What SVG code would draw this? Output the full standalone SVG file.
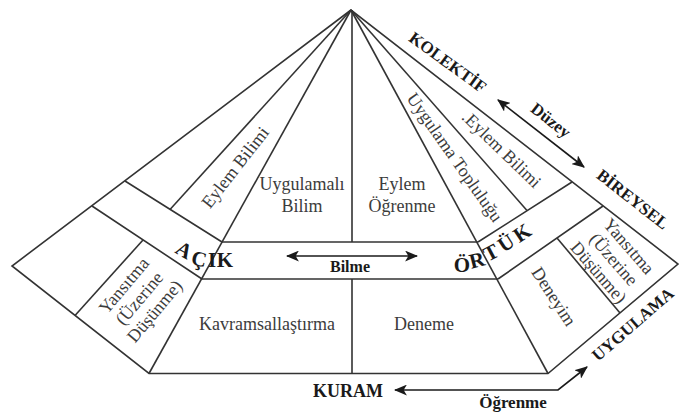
<svg xmlns="http://www.w3.org/2000/svg" width="680" height="412" viewBox="0 0 680 412">
<defs>
<marker id="ah" viewBox="0 0 12 10" refX="11" refY="5" markerWidth="13" markerHeight="11" markerUnits="userSpaceOnUse" orient="auto-start-reverse">
<path d="M0,0 L12,5 L0,10 L3,5 Z" fill="#1a1a1a"/>
</marker>
<style>
.ln{fill:none;stroke:#333;stroke-width:1.6;stroke-linejoin:miter}
.t{font-family:"Liberation Serif","Times New Roman",serif;font-size:18px;fill:#3c3c3c;text-anchor:middle}
.b{font-family:"Liberation Serif","Times New Roman",serif;font-weight:bold;fill:#1a1a1a;text-anchor:middle}
.ar{fill:none;stroke:#1a1a1a;stroke-width:1.6;marker-start:url(#ah);marker-end:url(#ah)}
</style>
</defs>
<rect width="680" height="412" fill="#fff"/>
<g id="frame" class="ln">
<path d="M351,10 L12,266 L149,373.5 L548,373.5 L678,264 Z"/>
<path d="M351,10 L149,373.5"/>
<path d="M351,10 L548,373.5"/>
<path d="M352,10 V242 M352,279 V373.5"/>
<path d="M222,242 H478 M202,279 H498"/>
<path d="M125,181 L222,242 M92,206 L202,279"/>
<path d="M351,10 L170,209.5"/>
<path d="M143,240 L75,315.5"/>
<path d="M478,242 L572,182 M498,279 L603,206"/>
<path d="M351,10 L527,210.5"/>
<path d="M557,238 L620,313"/>
</g>
<g id="n-eylem-bilimi-left"><text class="t" transform="translate(236,168) rotate(-52)" y="5">Eylem Bilimi</text></g>
<g id="n-uygulamali-bilim"><text class="t" x="302" y="190">Uygulamalı</text><text class="t" x="302" y="212">Bilim</text></g>
<g id="n-eylem-ogrenme"><text class="t" x="402" y="190">Eylem</text><text class="t" x="402" y="212">Öğrenme</text></g>
<g id="n-uygulama-toplulugu"><text class="t" transform="translate(454,158) rotate(55)" y="5">Uygulama Topluluğu</text></g>
<g id="n-eylem-bilimi-right"><text class="t" transform="translate(501,150) rotate(44)" y="5">.Eylem Bilimi</text></g>
<g id="n-yansitma-right"><text class="t" transform="translate(613,260) rotate(49)"><tspan x="0" y="-15">Yansıtma</tspan><tspan x="0" y="5">(Üzerine</tspan><tspan x="0" y="25">Düşünme)</tspan></text></g>
<g id="n-deneyim"><text class="t" transform="translate(553,297) rotate(57)" y="5">Deneyim</text></g>
<g id="n-yansitma-left"><text class="t" transform="translate(140,299) rotate(-50)"><tspan x="0" y="-15">Yansıtma</tspan><tspan x="0" y="5">(Üzerine</tspan><tspan x="0" y="25">Düşünme)</tspan></text></g>
<g id="n-kavramsallastirma"><text class="t" x="267" y="330">Kavramsallaştırma</text></g>
<g id="n-deneme"><text class="t" x="424" y="330">Deneme</text></g>
<g id="n-acik" class="b" font-size="21">
<text transform="translate(184,250) rotate(30)" y="7">A</text>
<text transform="translate(199,259) rotate(12)" y="7">Ç</text>
<text transform="translate(212,260)" y="7">I</text>
<text transform="translate(225,260)" y="7">K</text>
</g>
<g id="n-ortuk" class="b" font-size="21">
<text transform="translate(462,265)" y="7">Ö</text>
<text transform="translate(477,260) rotate(-14)" y="7">R</text>
<text transform="translate(491,252.5) rotate(-28)" y="7">T</text>
<text transform="translate(506,243) rotate(-33)" y="7">Ü</text>
<text transform="translate(522,233) rotate(-34)" y="7">K</text>
</g>
<g id="n-kolektif"><text class="b" font-size="17" transform="translate(448,62) rotate(36)" y="6">KOLEKTİF</text></g>
<g id="n-bireysel"><text class="b" font-size="17" transform="translate(633,199) rotate(38)" y="6">BİREYSEL</text></g>
<g id="n-duzey"><text class="b" font-size="17" transform="translate(551,120) rotate(38)" y="6">Düzey</text></g>
<g id="n-bilme"><text class="b" font-size="16" x="350" y="272">Bilme</text></g>
<g id="n-kuram"><text class="b" font-size="18" x="348" y="397">KURAM</text></g>
<g id="n-ogrenme"><text class="b" font-size="17" x="513" y="408">Öğrenme</text></g>
<g id="n-uygulama"><text class="b" font-size="17" style="text-anchor:start" transform="translate(598,362) rotate(-41)">UYGULAMA</text></g>
<g id="connectors">
<path class="ar" d="M287,256 H417"/>
<path class="ar" d="M498,100 L584,167"/>
<path class="ar" d="M395,390 H558 L587,367"/>
</g>
</svg>
